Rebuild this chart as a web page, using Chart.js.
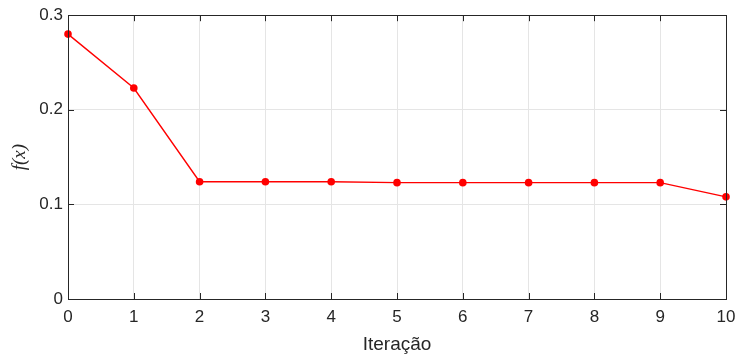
<!DOCTYPE html>
<html>
<head>
<meta charset="utf-8">
<script src="https://cdn.jsdelivr.net/npm/chart.js@4"></script>
<style>
    html, body { margin: 0; padding: 0; background: #fff; }
    #wrap { width: 740px; height: 356px; }
</style>
</head>
<body>
<div id="wrap"><canvas id="fxChart"></canvas></div>
<script>
// Objective value per iteration
const iterations = [0, 1, 2, 3, 4, 5, 6, 7, 8, 9, 10];
const fValues = [0.280, 0.223, 0.124, 0.124, 0.124, 0.123, 0.123, 0.123, 0.123, 0.123, 0.108];
const yTicks = [0, 0.1, 0.2, 0.3];

const axisColor = '#262626';
const gridColor = '#e5e5e5';
const sans = 'Liberation Sans, Arial, sans-serif';

// Box around the plot area with inward tick marks on all sides
const boxTicks = {
    id: 'boxTicks',
    afterDatasetsDraw(chart) {
        const { ctx, chartArea: a, scales } = chart;
        const len = 6;
        ctx.save();
        ctx.strokeStyle = axisColor;
        ctx.lineWidth = 1;
        ctx.beginPath();
        iterations.forEach(v => {
            const x = Math.round(scales.x.getPixelForValue(v)) + 0.5;
            ctx.moveTo(x, a.bottom);
            ctx.lineTo(x, a.bottom - len);
            ctx.moveTo(x, a.top);
            ctx.lineTo(x, a.top + len);
        });
        yTicks.forEach(v => {
            const y = Math.round(scales.y.getPixelForValue(v)) + 0.5;
            ctx.moveTo(a.left, y);
            ctx.lineTo(a.left + len, y);
            ctx.moveTo(a.right, y);
            ctx.lineTo(a.right - len, y);
        });
        ctx.stroke();
        ctx.strokeRect(Math.round(a.left) + 0.5, Math.round(a.top) + 0.5,
            Math.round(a.right - a.left), Math.round(a.bottom - a.top));
        ctx.restore();
    }
};

new Chart(document.getElementById('fxChart'), {
    type: 'line',
    data: {
        datasets: [{
            data: iterations.map((it, i) => ({ x: it, y: fValues[i] })),
            borderColor: '#ff0000',
            backgroundColor: '#ff0000',
            borderWidth: 1.4,
            pointRadius: 3.8,
            pointHoverRadius: 3.8,
            pointBorderWidth: 0,
            tension: 0,
            clip: false
        }]
    },
    options: {
        responsive: true,
        maintainAspectRatio: false,
        animation: false,
        layout: { padding: { top: 13, right: 14, left: 0, bottom: 0 } },
        plugins: {
            legend: { display: false },
            tooltip: { enabled: false }
        },
        scales: {
            x: {
                type: 'linear',
                min: 0,
                max: 10,
                afterBuildTicks: axis => { axis.ticks = iterations.map(v => ({ value: v })); },
                afterFit: axis => {
                    axis.height = 57;
                    axis.paddingLeft = 0;
                    axis.paddingRight = 0;
                },
                border: { display: false },
                grid: { color: gridColor, drawTicks: false },
                ticks: {
                    color: axisColor,
                    padding: 8,
                    maxRotation: 0,
                    font: { family: sans, size: 17 }
                },
                title: {
                    display: true,
                    text: 'Iteração',
                    color: axisColor,
                    padding: { top: 2, bottom: 0 },
                    font: { family: sans, size: 19 }
                }
            },
            y: {
                min: 0,
                max: 0.3,
                afterBuildTicks: axis => { axis.ticks = yTicks.map(v => ({ value: v })); },
                afterFit: axis => { axis.width = 68; },
                border: { display: false },
                grid: { color: gridColor, drawTicks: false },
                ticks: {
                    color: axisColor,
                    padding: 5,
                    callback: v => String(v),
                    font: { family: sans, size: 17 }
                },
                title: {
                    display: true,
                    text: 'f(x)',
                    color: axisColor,
                    padding: { top: 9, bottom: 0 },
                    font: { family: 'Liberation Serif, DejaVu Serif, serif', size: 19, style: 'italic' }
                }
            }
        }
    },
    plugins: [boxTicks]
});
</script>
</body>
</html>
